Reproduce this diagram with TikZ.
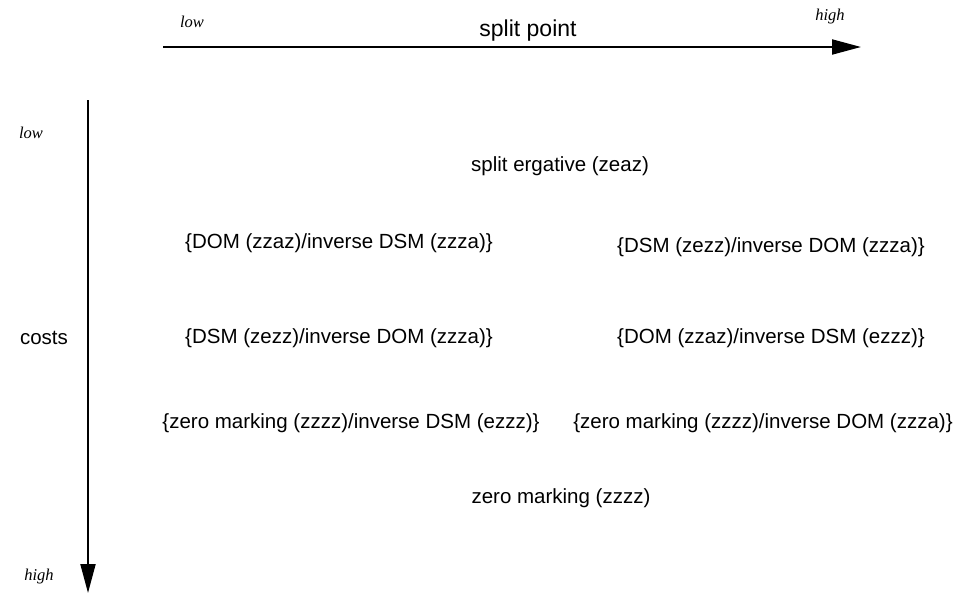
\documentclass[tikz,border=0pt]{standalone}
\usepackage{fontspec}
\setmainfont{Liberation Sans}
\newfontfamily\serifit{Liberation Serif}[ItalicFont=* Italic]
\usetikzlibrary{arrows.meta}
\begin{document}
\begin{tikzpicture}[x=1pt,y=-1pt,
  lab/.style={font=\fontsize{20.5}{23}\selectfont, inner sep=0pt},
  ends/.style={font=\serifit\itshape\fontsize{16.5}{18}\selectfont, inner sep=0pt},
  axis/.style={line width=2pt, -{Triangle[length=29pt,width=15pt]}}]
\useasboundingbox (0,0) rectangle (956,597);
\coordinate (hs) at (163,47);
\coordinate (he) at (861,47);
\coordinate (vs) at (88,100);
\coordinate (ve) at (88,593);
\draw[axis] (hs) -- (he);
\draw[axis] (vs) -- (ve);
\node[ends] (hlow) at (192,22) {low};
\node[ends] (hhigh) at (830,17) {high};
\node[lab, font=\fontsize{23}{26}\selectfont] (sp) at (528,31) {split point};
\node[ends] (vlow) at (31,133) {low};
\node[ends] (vhigh) at (39,577) {high};
\node[lab] (costs) at (44,338) {costs};
\node[lab] (r0) at (560,166) {split ergative (zeaz)};
\node[lab] (r1a) at (339,243) {\{DOM (zzaz)/inverse DSM (zzza)\}};
\node[lab] (r1b) at (771,247) {\{DSM (zezz)/inverse DOM (zzza)\}};
\node[lab] (r2a) at (339,338) {\{DSM (zezz)/inverse DOM (zzza)\}};
\node[lab] (r2b) at (771,338) {\{DOM (zzaz)/inverse DSM (ezzz)\}};
\node[lab] (r3a) at (351,423) {\{zero marking (zzzz)/inverse DSM (ezzz)\}};
\node[lab] (r3b) at (763,423) {\{zero marking (zzzz)/inverse DOM (zzza)\}};
\node[lab] (r4) at (561,498) {zero marking (zzzz)};
\end{tikzpicture}
\end{document}
